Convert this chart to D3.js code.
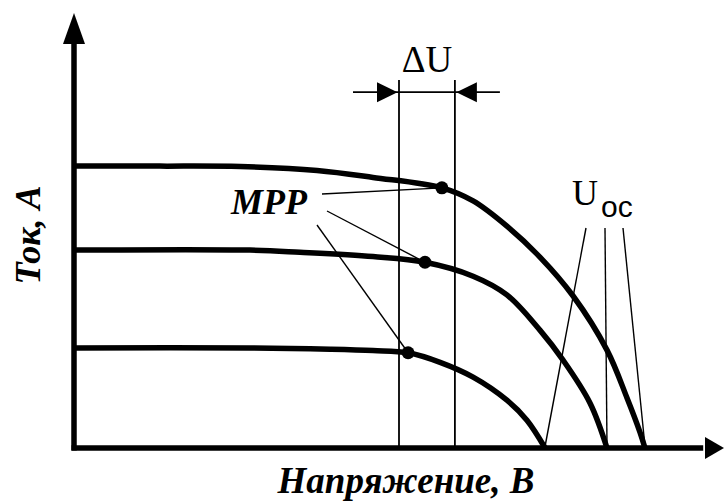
<!DOCTYPE html>
<html><head><meta charset="utf-8">
<script src="https://cdn.jsdelivr.net/npm/d3@7"></script>
<style>html,body{margin:0;padding:0;background:#fff;}svg{display:block;}</style>
</head><body>
<script>
// ---- data (voltage V, current A; arbitrary units) ----
const curveNames = ["high", "mid", "low"];
const voltageHigh = [0, 3.3, 6.4, 9.35, 11.5, 14.15, 15.35, 16.65, 17.92, 19.19, 20.5, 21.27, 21.77, 21.96];
const currentHigh = [6.48, 6.48, 6.47, 6.38, 6.22, 5.98, 5.68, 5.10, 4.39, 3.50, 2.25, 1.15, 0.36, 0];
const voltageMid = [0, 6.77, 8.69, 11.5, 13.5, 15.35, 16.65, 17.92, 18.81, 19.85, 20.5];
const currentMid = [4.55, 4.55, 4.50, 4.40, 4.27, 3.95, 3.52, 2.71, 2.02, 1.03, 0];
const voltageLow = [0, 6.77, 9.85, 11.5, 12.85, 14.08, 15.35, 16.65, 17.42, 18.12];
const currentLow = [2.30, 2.30, 2.27, 2.24, 2.19, 1.97, 1.63, 1.10, 0.64, 0];
const mppVoltage = [14.15, 13.5, 12.85];
const mppCurrent = [5.98, 4.27, 2.19];
const uocVoltage = [18.12, 20.5, 21.96];
const deltaU = [12.5, 14.65];
const labels = { x: "Напряжение, В", y: "Ток, А", mpp: "MPP", du: "ΔU", uoc: "U", uocSub: "oc" };

const W = 726, H = 502;
const x = d3.scaleLinear().domain([0, 25]).range([74, 724]);
const y = d3.scaleLinear().domain([0, 10]).range([448, 13]);

const svg = d3.select("body").append("svg").attr("width", W).attr("height", H);

// axes
svg.append("line").attr("x1", x(0) - 2.5).attr("x2", x(24.2)).attr("y1", y(0)).attr("y2", y(0))
  .attr("stroke", "#000").attr("stroke-width", 5.5);
svg.append("line").attr("x1", x(0)).attr("x2", x(0)).attr("y1", y(0) + 2.5).attr("y2", y(9.3))
  .attr("stroke", "#000").attr("stroke-width", 5.5);
// arrowheads
svg.append("path").attr("d", `M${x(0)},${y(10)} L${x(0) - 11},${y(10) + 31} L${x(0) + 11},${y(10) + 31} Z`).attr("fill", "#000");
svg.append("path").attr("d", `M${x(25)},${y(0)} L${x(25) - 19},${y(0) - 11} L${x(25) - 19},${y(0) + 11} Z`).attr("fill", "#000");

// ΔU annotation
const duTop = 8.46, duLine = 8.18;
deltaU.forEach(v => {
  svg.append("line").attr("x1", x(v)).attr("x2", x(v)).attr("y1", y(duTop)).attr("y2", y(0))
    .attr("stroke", "#000").attr("stroke-width", 1.8);
});
svg.append("line").attr("x1", x(deltaU[0]) - 46).attr("x2", x(deltaU[1]) + 45).attr("y1", y(duLine)).attr("y2", y(duLine))
  .attr("stroke", "#000").attr("stroke-width", 1.8);
const ay = y(duLine);
svg.append("path").attr("d", `M${x(deltaU[0]) - 1.5},${ay} L${x(deltaU[0]) - 22},${ay - 10} L${x(deltaU[0]) - 22},${ay + 10} Z`).attr("fill", "#000");
svg.append("path").attr("d", `M${x(deltaU[1]) + 1.5},${ay} L${x(deltaU[1]) + 22},${ay - 10} L${x(deltaU[1]) + 22},${ay + 10} Z`).attr("fill", "#000");
svg.append("text").attr("x", (x(deltaU[0]) + x(deltaU[1])) / 2).attr("y", 72)
  .attr("text-anchor", "middle").attr("font-family", "Liberation Serif, serif").attr("font-size", 37)
  .text(labels.du);

// curves
const series = [
  { v: voltageHigh, c: currentHigh },
  { v: voltageMid, c: currentMid },
  { v: voltageLow, c: currentLow }
];
const line = d3.line().x(d => x(d[0])).y(d => y(d[1])).curve(d3.curveCatmullRom.alpha(0.5));
series.forEach((s, i) => {
  svg.append("path").datum(s.v.map((v, j) => [v, s.c[j]]))
    .attr("d", line).attr("fill", "none").attr("stroke", "#000").attr("stroke-width", 5.5)
    .attr("stroke-linecap", "butt")
    .attr("class", "curve-" + curveNames[i]);
});

// MPP label and leaders
const mppX = 231, mppBase = 214;
svg.append("text").attr("x", mppX).attr("y", mppBase)
  .attr("font-family", "Liberation Serif, serif").attr("font-style", "italic").attr("font-weight", "bold")
  .attr("font-size", 36).text(labels.mpp);
const leaderStarts = [[322, 194], [327, 211], [317, 225]];
mppVoltage.forEach((v, i) => {
  svg.append("line").attr("x1", leaderStarts[i][0]).attr("y1", leaderStarts[i][1])
    .attr("x2", x(v)).attr("y2", y(mppCurrent[i]))
    .attr("stroke", "#000").attr("stroke-width", 1.4);
});
mppVoltage.forEach((v, i) => {
  svg.append("circle").attr("cx", x(v)).attr("cy", y(mppCurrent[i])).attr("r", 6.5).attr("fill", "#000");
});

// Uoc label and leaders
const uocText = svg.append("text").attr("x", 572).attr("y", 205)
  .attr("font-family", "Liberation Serif, serif").attr("font-size", 36);
uocText.append("tspan").text(labels.uoc);
uocText.append("tspan").attr("x", 601).attr("y", 217).attr("font-family", "Liberation Sans, Arial, sans-serif")
  .attr("font-size", 30).text(labels.uocSub);
const uocStarts = [586, 605, 623];
uocVoltage.forEach((v, i) => {
  svg.append("line").attr("x1", uocStarts[i]).attr("y1", 228).attr("x2", x(v)).attr("y2", y(0) - 2)
    .attr("stroke", "#000").attr("stroke-width", 1.4);
});

// axis titles
svg.append("text").attr("x", 406).attr("y", 493).attr("text-anchor", "middle")
  .attr("font-family", "Liberation Serif, serif").attr("font-style", "italic").attr("font-weight", "bold")
  .attr("font-size", 37).text(labels.x);
svg.append("text").attr("transform", "translate(40,235) rotate(-90)").attr("text-anchor", "middle")
  .attr("font-family", "Liberation Serif, serif").attr("font-style", "italic").attr("font-weight", "bold")
  .attr("font-size", 36).text(labels.y);
</script>
</body></html>
